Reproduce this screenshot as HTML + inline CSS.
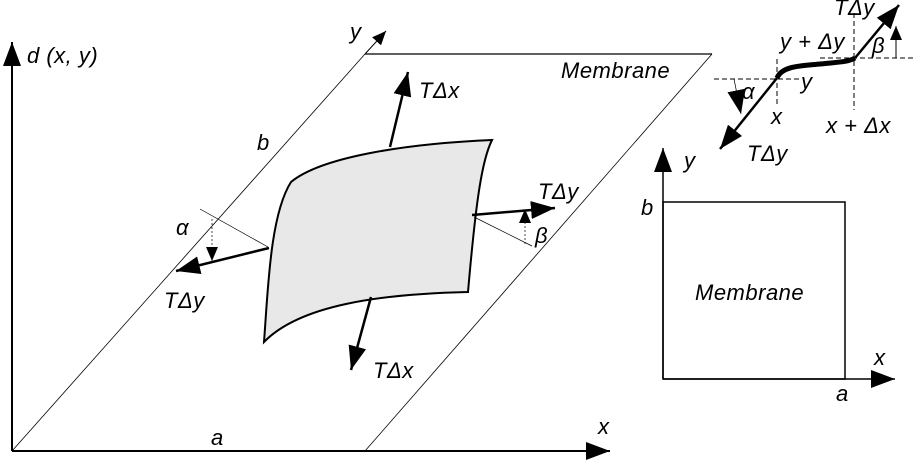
<!DOCTYPE html>
<html><head><meta charset="utf-8"><style>
html,body{margin:0;padding:0;background:#fff;}
svg{display:block;font-family:"Liberation Sans",Arial,sans-serif;font-style:italic;}
text{font-size:22px;letter-spacing:0.5px;fill:#000;}
</style></head><body>
<svg width="916" height="470" viewBox="0 0 916 470">
<defs>
<marker id="big" viewBox="0 0 24 18" refX="24" refY="9" markerWidth="24" markerHeight="18" markerUnits="userSpaceOnUse" orient="auto">
<path d="M0,0 L24,9 L0,18 z"/>
</marker>
<marker id="sm" viewBox="0 0 14 12" refX="14" refY="6" markerWidth="14" markerHeight="12" markerUnits="userSpaceOnUse" orient="auto">
<path d="M0,0 L14,6 L0,12 z"/>
</marker>
</defs>

<g stroke="#000" stroke-width="2">
<line x1="12" y1="451" x2="12" y2="42" marker-end="url(#big)"/>
<line x1="12" y1="451" x2="610" y2="451" marker-end="url(#big)"/>
</g>
<text x="27" y="63">d (x, y)</text>
<text x="598" y="434">x</text>
<text x="211" y="445">a</text>

<g fill="none" stroke="#000">
<line x1="12" y1="451" x2="365" y2="54" stroke-width="0.8"/>
<line x1="365" y1="54" x2="712" y2="54" stroke-width="1.3"/>
<line x1="712" y1="54" x2="365" y2="451" stroke-width="0.8"/>
</g>
<line x1="365" y1="54" x2="386" y2="31" stroke="#000" stroke-width="1" marker-end="url(#sm)"/>
<text x="350" y="39">y</text>
<text x="257" y="150">b</text>
<text x="561" y="78">Membrane</text>

<path d="M291,182 C320,158 400,144 492,140 C482,160 476,200 468,292 C380,294 300,305 264,342 C268,290 270,215 291,182 Z" fill="#e8e8e8" stroke="#000" stroke-width="2"/>

<g stroke="#000" stroke-width="2.5">
<line x1="390" y1="147" x2="408" y2="72" marker-end="url(#big)"/>
<line x1="371" y1="297" x2="351" y2="370" marker-end="url(#big)"/>
<line x1="269" y1="248" x2="176" y2="271" marker-end="url(#big)"/>
<line x1="472" y1="215" x2="555" y2="208" marker-end="url(#big)"/>
</g>
<text x="419" y="98">TΔx</text>
<text x="373" y="378">TΔx</text>
<text x="164" y="308">TΔy</text>
<text x="538" y="199">TΔy</text>

<g stroke="#000" stroke-width="0.7" fill="none">
<line x1="200" y1="209" x2="268" y2="247"/>
<line x1="474" y1="217" x2="532" y2="246"/>
<line x1="212" y1="219" x2="212" y2="261" stroke-dasharray="2,2" marker-end="url(#sm)"/>
<line x1="525" y1="244" x2="525" y2="209" stroke-dasharray="2,2" marker-end="url(#sm)"/>
</g>
<text x="176" y="235">α</text>
<text x="535" y="243">β</text>

<g stroke="#000" stroke-width="1" stroke-dasharray="5,3" fill="none">
<line x1="714" y1="79" x2="800" y2="79"/>
<line x1="820" y1="58" x2="914" y2="58"/>
<line x1="777" y1="59" x2="777" y2="107"/>
<line x1="854" y1="13" x2="854" y2="110"/>
</g>
<g stroke="#000" fill="none">
<path d="M777,78 C782,66 800,66 820,64 C840,62 848,62 855,58" stroke-width="5"/>
<line x1="777" y1="78" x2="720" y2="149" stroke-width="2.5" marker-end="url(#big)"/>
<line x1="855" y1="58" x2="899" y2="5" stroke-width="2.5" marker-end="url(#big)"/>
<line x1="734" y1="79" x2="741" y2="114" stroke-width="0.7" marker-end="url(#big)"/>
<line x1="896" y1="58" x2="896" y2="26" stroke-width="1" marker-end="url(#sm)"/>
</g>
<text x="780" y="49">y + Δy</text>
<text x="801" y="89">y</text>
<text x="771" y="124">x</text>
<text x="826" y="133">x + Δx</text>
<text x="742" y="99">α</text>
<text x="872" y="53">β</text>
<text x="834" y="15">TΔy</text>
<text x="747" y="161">TΔy</text>

<g stroke="#000" stroke-width="1.5" fill="none">
<line x1="663" y1="379" x2="663" y2="148" marker-end="url(#big)"/>
<line x1="663" y1="379" x2="895" y2="379" marker-end="url(#big)"/>
<rect x="663" y="202" width="182" height="177"/>
</g>
<text x="684" y="168">y</text>
<text x="641" y="215">b</text>
<text x="695" y="300">Membrane</text>
<text x="874" y="365">x</text>
<text x="836" y="401">a</text>
</svg>
</body></html>
